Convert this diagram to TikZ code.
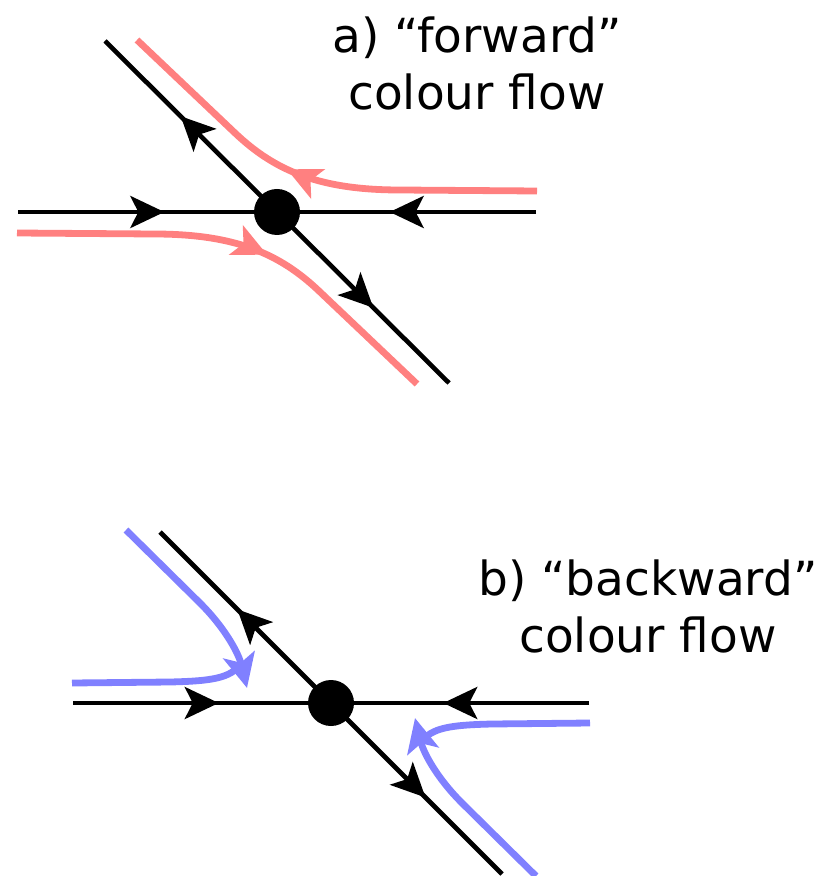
\documentclass[tikz,border=0pt]{standalone}
\usepackage{fontspec}
\setmainfont{DejaVu Sans}
\definecolor{cred}{HTML}{FF8080}
\definecolor{cblue}{HTML}{8080FF}
\usetikzlibrary{arrows.meta,decorations.markings}

\begin{document}
\begin{tikzpicture}[x=0.5pt,y=-0.5pt,
  vtx/.style={circle,fill=black,inner sep=0pt,minimum size=23pt},
  prop/.style={line width=2.3pt,black},
  flow/.style={line width=3.4pt},
  tip/.style={-{Stealth[length=17pt,width=16pt,inset=4pt]}},
  midtip/.style={postaction={decorate},decoration={markings,mark=at position #1 with {\arrow{Stealth[length=17pt,width=16pt,inset=4pt]}}}},
  lbl/.style={font=\fontsize{23.5pt}{28.5pt}\selectfont,align=center,anchor=base,inner sep=0pt}]
  \useasboundingbox (0,0) rectangle (824,876);
  % a) forward
  \node[vtx] (va) at (277,212) {};
  \coordinate (aw) at (18,212);
  \coordinate (ae) at (536,212);
  \coordinate (anw) at (105,41);
  \coordinate (ase) at (449,383);
  \draw[prop,midtip=0.565] (aw) -- (va.center);
  \draw[prop,midtip=0.565] (ae) -- (va.center);
  \draw[prop,midtip=0.56] (va.center) -- (anw);
  \draw[prop,midtip=0.56] (va.center) -- (ase);
  \coordinate (ar1) at (537,191);
  \coordinate (ar2) at (400,190);
  \coordinate (ar3) at (235,133);
  \coordinate (ar4) at (137,40);
  \coordinate (ar5) at (17,233);
  \coordinate (ar6) at (154,234);
  \coordinate (ar7) at (319,291);
  \coordinate (ar8) at (417,384);
  \draw[flow,cred,midtip=0.56] (ar1) -- (ar2) .. controls (320,190) and (275,171) .. (ar3) -- (ar4);
  \draw[flow,cred,midtip=0.56] (ar5) -- (ar6) .. controls (234,234) and (279,253) .. (ar7) -- (ar8);
  \node[lbl] (fwd) at (477,110) {a) “forward”\\colour flow};
  % b) backward
  \node[vtx] (vb) at (331,703) {};
  \coordinate (bw) at (73,703);
  \coordinate (be) at (589,703);
  \coordinate (bnw) at (160,532);
  \coordinate (bse) at (502,874);
  \draw[prop,midtip=0.565] (bw) -- (vb.center);
  \draw[prop,midtip=0.565] (be) -- (vb.center);
  \draw[prop,midtip=0.55] (vb.center) -- (bnw);
  \draw[prop,midtip=0.555] (vb.center) -- (bse);
  \coordinate (bb1) at (126,530);
  \coordinate (bb2) at (200,603);
  \coordinate (bb3) at (247,688);
  \coordinate (bb4) at (241,664);
  \coordinate (bb5) at (170,682);
  \coordinate (bb6) at (72,683);
  \draw[flow,cblue,tip] (bb1) -- (bb2) .. controls (227,630) and (239,655) .. (bb3);
  \draw[flow,cblue] (bb4) .. controls (230,678) and (213,681) .. (bb5) -- (bb6);
  \coordinate (bc1) at (536,876);
  \coordinate (bc2) at (462,803);
  \coordinate (bc3) at (415,718);
  \coordinate (bc4) at (421,742);
  \coordinate (bc5) at (492,724);
  \coordinate (bc6) at (590,723);
  \draw[flow,cblue,tip] (bc1) -- (bc2) .. controls (435,776) and (423,751) .. (bc3);
  \draw[flow,cblue] (bc4) .. controls (432,728) and (449,725) .. (bc5) -- (bc6);
  \node[lbl] (bwd) at (648,652) {b) “backward”\\colour flow};
\end{tikzpicture}
\end{document}
